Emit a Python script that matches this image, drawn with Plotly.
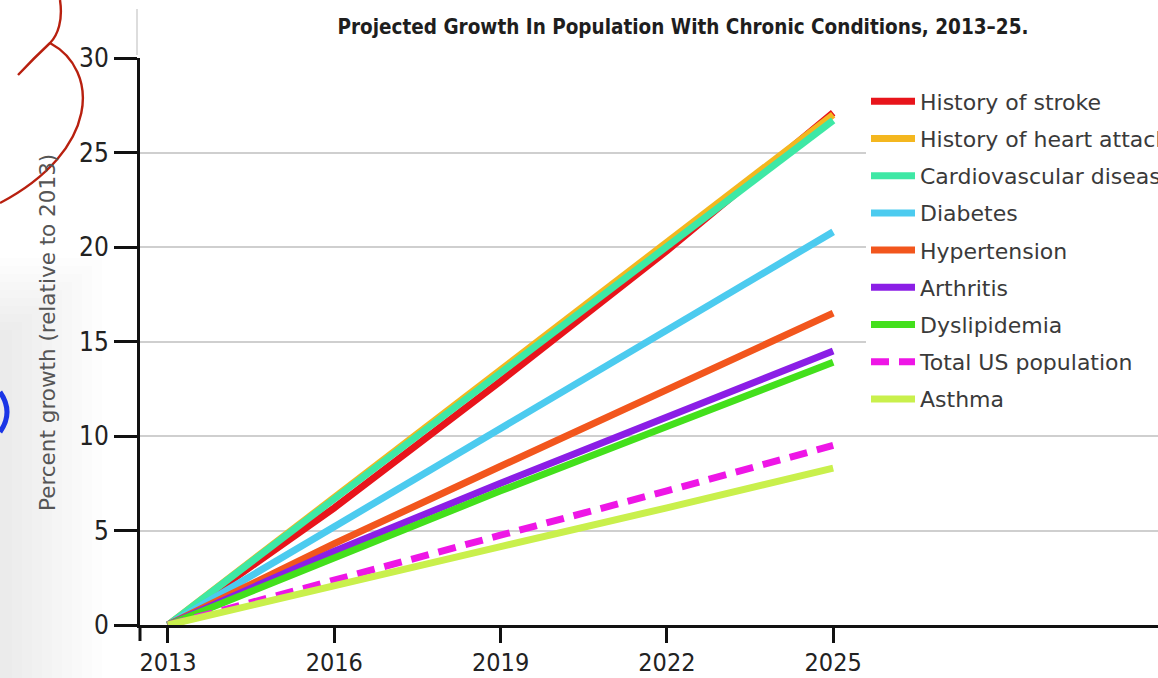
import plotly.graph_objects as go

# Projection years shown on the x axis
years = [2013, 2016, 2019, 2022, 2025]

# Percent growth relative to 2013, one list per condition
stroke = [0, 6.2, 12.9, 19.8, 27.1]
heart_attack = [0, 6.75, 13.5, 20.25, 27.0]
cardiovascular = [0, 6.7, 13.4, 20.1, 26.7]
diabetes = [0, 5.2, 10.4, 15.6, 20.8]
hypertension = [0, 4.3, 8.4, 12.5, 16.5]
arthritis = [0, 3.9, 7.5, 11.0, 14.5]
dyslipidemia = [0, 3.6, 7.1, 10.5, 13.9]
total_us = [0, 2.4, 4.75, 7.1, 9.5]
asthma = [0, 2.1, 4.15, 6.2, 8.3]

series_names = [
    "History of stroke",
    "History of heart attack",
    "Cardiovascular disease",
    "Diabetes",
    "Hypertension",
    "Arthritis",
    "Dyslipidemia",
    "Total US population",
    "Asthma",
]
series_values = [stroke, heart_attack, cardiovascular, diabetes, hypertension,
                 arthritis, dyslipidemia, total_us, asthma]
series_colors = ["#e8141b", "#f4b71f", "#3ee8a5", "#4ccbef", "#f2561d",
                 "#8b1ee6", "#43e01c", "#ee16e6", "#c9f04c"]
series_dash = ["solid"] * 7 + ["18px,10px", "solid"]

y_ticks = [0, 5, 10, 15, 20, 25, 30]
y_title = "Percent growth (relative to 2013)"
chart_title = "Projected Growth In Population With Chronic Conditions, 2013–25."

W, H = 1158, 678
ML, MR, MT, MB = 140, 0, 58, 53
PW, PH = W - ML - MR, H - MT - MB


def px(x):
    """pixel column -> paper x"""
    return (x - ML) / PW


def py(y):
    """pixel row -> paper y"""
    return (H - MB - y) / PH


fig = go.Figure()
for name, vals, col, dash in zip(series_names, series_values, series_colors, series_dash):
    fig.add_trace(go.Scatter(
        x=years, y=vals, name=name, mode="lines",
        legendgroup=name,
        line=dict(color=col, width=7, dash=dash),
        hoverinfo="skip",
    ))

narrow = "DejaVu Sans Condensed, DejaVu Sans, sans-serif"

fig.update_layout(
    width=W, height=H,
    margin=dict(l=ML, r=MR, t=MT, b=MB, autoexpand=False),
    plot_bgcolor="white", paper_bgcolor="white",
    showlegend=True,
    legend=dict(
        x=px(866), xanchor="left", y=py(80.5), yanchor="top",
        font=dict(family="DejaVu Sans", size=22, color="#3a3a3a"),
        bgcolor="white", borderwidth=0,
        tracegroupgap=5.6, itemwidth=44,
    ),
    title=dict(
        text="<b>" + chart_title + "</b>",
        x=px(683), xref="paper", xanchor="center",
        y=1 - 27 / H, yref="container", yanchor="middle",
        font=dict(family=narrow, size=20.5, color="#1e1e1e"),
    ),
    xaxis=dict(
        range=[2012.495, 2030.86], tickvals=years,
        showline=True, linecolor="#111", linewidth=3,
        ticks="outside", ticklen=15, tickwidth=3, tickcolor="#111",
        showgrid=False, zeroline=False,
        tickfont=dict(family=narrow, size=25, color="#222"),
        ticklabelstandoff=-2,
    ),
    yaxis=dict(
        range=[0, 30], tickvals=y_ticks,
        showline=True, linecolor="#111", linewidth=3,
        ticks="outside", ticklen=23, tickwidth=3, tickcolor="#111",
        showgrid=True, gridcolor="#cfcfcf", gridwidth=2, zeroline=False,
        tickfont=dict(family=narrow, size=26, color="#222"),
    ),
)

# y axis title, rotated, on the left
fig.add_annotation(
    text=y_title, textangle=-90, showarrow=False,
    xref="paper", yref="paper", x=px(47), y=py(333),
    xanchor="center", yanchor="middle",
    font=dict(family="DejaVu Sans", size=21.5, color="#555"),
)

# soft grey shading fading in from the left edge
for i in range(10):
    fig.add_shape(type="rect", xref="paper", yref="paper", layer="below",
                  x0=px(0), x1=px(12 + 10 * i), y0=py(678), y1=py(330 - 8 * i),
                  line=dict(width=0), fillcolor="rgba(0,0,0,0.007)")

# y axis continues a little below the x axis
fig.add_shape(type="line", xref="paper", yref="paper",
              x0=0, x1=0, y0=0, y1=py(641), line=dict(color="#111", width=3))
# faint rule above the y axis
fig.add_shape(type="line", xref="paper", yref="paper",
              x0=px(137), x1=px(137), y0=py(9), y1=py(55), line=dict(color="#bbbbbb", width=1))

# hand-drawn red pen strokes in the top-left corner
red_a = "M {},{} C {},{} {},{} {},{} Q {},{} {},{}".format(
    px(60), py(0), px(63), py(20), px(58), py(35), px(50), py(43),
    px(34), py(58), px(18), py(75))
red_b = "M {},{} C {},{} {},{} {},{}".format(
    px(50), py(43), px(100), py(70), px(100), py(150), px(0), py(203))
for p in (red_a, red_b):
    fig.add_shape(type="path", xref="paper", yref="paper", path=p,
                  line=dict(color="#b8200f", width=2.4))

# blue pen mark at the left edge
blue = "M {},{} Q {},{} {},{}".format(px(0), py(392), px(14), py(412), px(0), py(432))
fig.add_shape(type="path", xref="paper", yref="paper", path=blue,
              line=dict(color="#1a35e6", width=5))

fig.write_html("out.html")
